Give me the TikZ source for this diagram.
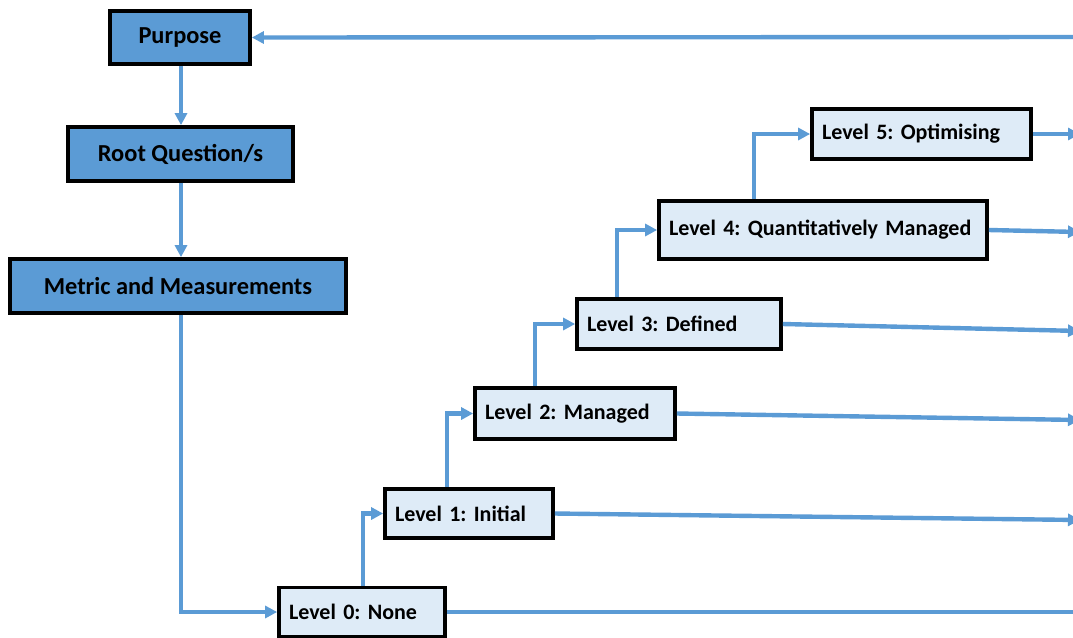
\documentclass[tikz,border=0pt]{standalone}
\usepackage{fontspec}
\setmainfont{Carlito}
\usetikzlibrary{arrows.meta}
\definecolor{linkblue}{HTML}{5B9BD5}
\definecolor{topfill}{HTML}{5B9BD5}
\definecolor{lvlfill}{HTML}{DEEBF7}
\frenchspacing
\begin{document}
\begin{tikzpicture}[x=0.75pt,y=-0.75pt,
  box/.style={draw=black, line width=2.8pt, inner sep=0pt},
  topbox/.style={box, fill=topfill, align=center, font=\bfseries\fontsize{18.3}{22}\selectfont},
  lvlbox/.style={box, fill=lvlfill, align=left, inner xsep=7.5pt, font=\bfseries\fontsize{16.5}{20}\selectfont},
  conn/.style={draw=linkblue, line width=3.3pt},
  arr/.style={conn, -{Triangle[length=9pt,width=9pt]}}]

% page area
\fill[white] (0,0) rectangle (1073,637);
\useasboundingbox (0,0) rectangle (1073,637);

% question chain
\node[topbox, minimum width=105pt, minimum height=39.75pt] (P) at (180,37.5) {Purpose};
\node[topbox, minimum width=168.75pt, minimum height=40.5pt] (R) at (180.5,154) {Root Question/s};
\node[topbox, minimum width=252pt, minimum height=40.5pt] (M) at (178,286) {Metric and Measurements};

% maturity levels
\node[lvlbox, text width=109.5pt, minimum height=36.75pt] (L0) at (362,612) {Level 0: None};
\node[lvlbox, text width=111pt, minimum height=36.75pt] (L1) at (469,513.5) {Level 1: Initial};
\node[lvlbox, text width=135pt, minimum height=38.25pt] (L2) at (575,413.5) {Level 2: Managed};
\node[lvlbox, text width=138pt, minimum height=37.5pt] (L3) at (679,324) {Level 3: Defined};
\node[lvlbox, text width=231pt, minimum height=43.5pt] (L4) at (823,230) {Level 4: Quantitatively Managed};
\node[lvlbox, text width=149.25pt, minimum height=37.5pt] (L5) at (921.5,134) {Level 5: Optimising};

% riser positions of the step connectors
\coordinate (vm) at (181,0);
\coordinate (v0) at (363,0);
\coordinate (v1) at (447,0);
\coordinate (v2) at (535,0);
\coordinate (v3) at (617,0);
\coordinate (v4) at (754,0);

% free ends at the right margin
\coordinate (ep) at (1080,37);
\coordinate (e5) at (1080,134);
\coordinate (e4) at (1080,232);
\coordinate (e3) at (1080,331);
\coordinate (e2) at (1080,420);
\coordinate (e1) at (1080,520);
\coordinate (e0) at (1080,612);

% vertical chain
\draw[arr] (P.south -| vm) -- (R.north -| vm);
\draw[arr] (R.south -| vm) -- (M.north -| vm);
\draw[arr] (M.south -| vm) |- (L0.west);

% staircase
\draw[arr] (L0.north -| v0) |- (L1.west);
\draw[arr] (L1.north -| v1) |- (L2.west);
\draw[arr] (L2.north -| v2) |- (L3.west);
\draw[arr] (L3.north -| v3) |- (L4.west);
\draw[arr] (L4.north -| v4) |- (L5.west);

% outgoing lines
\draw[arr] (L5.east) -- (e5);
\draw[arr] (L4.east) -- (e4);
\draw[arr] (L3.east) -- (e3);
\draw[arr] (L2.east) -- (e2);
\draw[arr] (L1.east) -- (e1);
\draw[conn] (L0.east) -- (e0);

% feedback to purpose
\draw[arr] (ep) -- (P.east);
\end{tikzpicture}
\end{document}
